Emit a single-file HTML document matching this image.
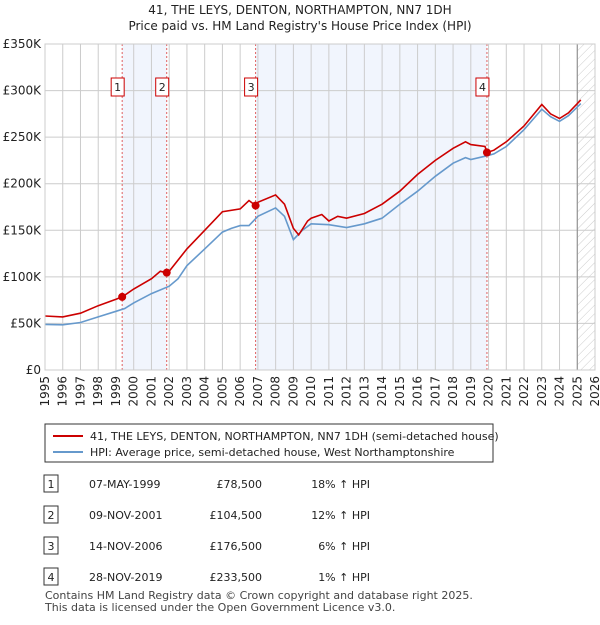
<!DOCTYPE html>
<html><head><meta charset="utf-8"><style>
body{margin:0;background:#fff;font-family:"Liberation Sans",sans-serif;}
svg text{font-family:"DejaVu Sans","Liberation Sans",sans-serif;}
</style></head><body>
<svg id="c" width="600" height="620" xmlns="http://www.w3.org/2000/svg">
<defs><pattern id="h" width="6" height="6" patternUnits="userSpaceOnUse" patternTransform="rotate(45)"><line x1="0" y1="0" x2="0" y2="6" stroke="#ccc" stroke-width="1"/></pattern></defs>
<text x="300" y="14" text-anchor="middle" font-size="12" fill="#222">41, THE LEYS, DENTON, NORTHAMPTON, NN7 1DH</text>
<text x="300" y="30" text-anchor="middle" font-size="12" fill="#222">Price paid vs. HM Land Registry's House Price Index (HPI)</text>
<g id="plot"></g>
<rect x="45" y="424" width="448" height="38" fill="#fff" stroke="#333"/>
<line x1="53" y1="436" x2="83" y2="436" stroke="#cc0000" stroke-width="2"/>
<text x="90" y="440" font-size="11" fill="#222">41, THE LEYS, DENTON, NORTHAMPTON, NN7 1DH (semi-detached house)</text>
<line x1="53" y1="452" x2="83" y2="452" stroke="#6699cc" stroke-width="2"/>
<text x="90" y="456" font-size="11" fill="#222">HPI: Average price, semi-detached house, West Northamptonshire</text>
<g id="table" font-size="11" fill="#222"></g>
<text x="45" y="599" font-size="11" fill="#444">Contains HM Land Registry data © Crown copyright and database right 2025.</text>
<text x="45" y="611" font-size="11" fill="#444">This data is licensed under the Open Government Licence v3.0.</text>
</svg>
<script>
const hpiYears=[1995,1996,1997,1998,1999,1999.5,2000,2001,2002,2002.5,2003,2004,2005,2005.5,2006,2006.5,2007,2008,2008.5,2009,2009.5,2010,2011,2012,2013,2014,2015,2016,2017,2018,2018.7,2019,2019.9,2020.3,2021,2022,2023,2023.5,2024,2024.5,2025.2];
const hpiValues=[49,48.5,51,57,63,66,72,82,90,98,112,130,148,152,155,155,165,174,165,140,150,157,156,153,157,163,178,192,208,222,228,226,230,232,240,258,280,272,267,273,286];
const priceYears=[1995,1996,1997,1998,1999,1999.35,2000,2001,2001.5,2001.86,2002,2003,2004,2005,2006,2006.5,2006.87,2007,2008,2008.5,2009,2009.3,2009.8,2010,2010.6,2011,2011.5,2012,2013,2014,2015,2016,2017,2018,2018.7,2019,2019.8,2019.91,2020.3,2021,2022,2023,2023.5,2024,2024.5,2025.2];
const priceValues=[58,57,61,69,76,78.5,87,98,106,104.5,106,130,150,170,173,182,176.5,180,188,178,152,145,160,163,167,160,165,163,168,178,192,210,225,238,245,242,240,233.5,236,245,262,285,275,270,276,290];
const saleYears=[1999.35,2001.86,2006.87,2019.91];
const salePrices=[78.5,104.5,176.5,233.5];
const saleLabels=["1","2","3","4"];
const saleDates=["07-MAY-1999","09-NOV-2001","14-NOV-2006","28-NOV-2019"];
const salePriceText=["£78,500","£104,500","£176,500","£233,500"];
const saleHpiText=["18% ↑ HPI","12% ↑ HPI","6% ↑ HPI","1% ↑ HPI"];
const yTicks=[0,50,100,150,200,250,300,350];
const yTickLabels=["£0","£50K","£100K","£150K","£200K","£250K","£300K","£350K"];
const xStart=1995,xEnd=2026;
const L=45,R=595,T=44,B=370;
const X=y=>L+(y-xStart)*(R-L)/(xEnd-xStart);
const Y=v=>B-v*(B-T)/350;
const NS="http://www.w3.org/2000/svg";
const g=document.getElementById('plot');
function mk(tag,attrs,parent){const e=document.createElementNS(NS,tag);for(const k in attrs)e.setAttribute(k,attrs[k]);(parent||g).appendChild(e);return e;}
// shaded bands
for(let i=0;i<saleYears.length;i+=2){
  const b=mk('rect',{x:X(saleYears[i]),y:T,width:X(saleYears[i+1]||2026)-X(saleYears[i]),height:B-T,fill:'#eef3fc',opacity:0.8});
  
  
}
const hz=mk('rect',{x:X(2025),y:T,width:R-X(2025),height:B-T,fill:'url(#h)'});


for(let yr=xStart;yr<=xEnd;yr++){
  const l=mk('line',{x1:X(yr),x2:X(yr),y1:T,y2:B,stroke:'#ccc','stroke-width':1});
  
  
  const t=mk('text',{x:0,y:0,'font-size':12,fill:'#222','text-anchor':'end',transform:`translate(${X(yr)+4},${B+6}) rotate(-90)`});
  t.textContent=yr;
  
  
}
yTicks.forEach((v,i)=>{
  const l=mk('line',{x1:L,x2:R,y1:Y(v),y2:Y(v),stroke:'#ccc','stroke-width':1});
  
  
  const t=mk('text',{x:L-4,y:Y(v)+4,'font-size':12,fill:'#222','text-anchor':'end'});
  t.textContent=yTickLabels[i];
  
  
});
const nl=mk('line',{x1:X(2025),x2:X(2025),y1:T,y2:B,stroke:'#888','stroke-width':1});


saleYears.forEach((yr,i)=>{
  const l=mk('line',{x1:X(yr),x2:X(yr),y1:T,y2:B,stroke:'#e06060','stroke-width':1,'stroke-dasharray':'2,2'});
  
  
});
function path(xs,vs,color,name){
  const d=xs.map((x,i)=>(i?'L':'M')+X(x).toFixed(1)+','+Y(vs[i]).toFixed(1)).join('');
  const p=mk('path',{d:d,fill:'none',stroke:color,'stroke-width':1.6});
  
  
}
path(hpiYears,hpiValues,'#6699cc','hpi-line');
path(priceYears,priceValues,'#cc0000','price-line');
saleYears.forEach((yr,i)=>{
  const c=mk('circle',{cx:X(yr),cy:Y(salePrices[i]),r:4,fill:'#cc0000'});
  
  
  const bx=mk('rect',{x:X(yr)-11,y:78,width:13,height:18,fill:'#fff',stroke:'#cc0000'});
  
  
  const t=mk('text',{x:X(yr)-4.5,y:91,'font-size':11,fill:'#222','text-anchor':'middle'});
  t.textContent=saleLabels[i];
  
  
});
mk('rect',{x:L,y:T,width:R-L,height:B-T,fill:'none',stroke:'#ccc'});
const tb=document.getElementById('table');
saleYears.forEach((yr,i)=>{
  const y=488+i*31;
  const r=mk('rect',{x:44,y:y-13,width:14,height:17,fill:'#fff',stroke:'#333'},tb);
  
  
  const cells=[[51,saleLabels[i],'middle'],[89,saleDates[i],'start'],[262,salePriceText[i],'end'],[370,saleHpiText[i],'end']];
  cells.forEach(c=>{
    const t=mk('text',{x:c[0],y:y,'text-anchor':c[2]},tb);
    t.textContent=c[1];
    
    
  });
});
</script>
</body></html>
